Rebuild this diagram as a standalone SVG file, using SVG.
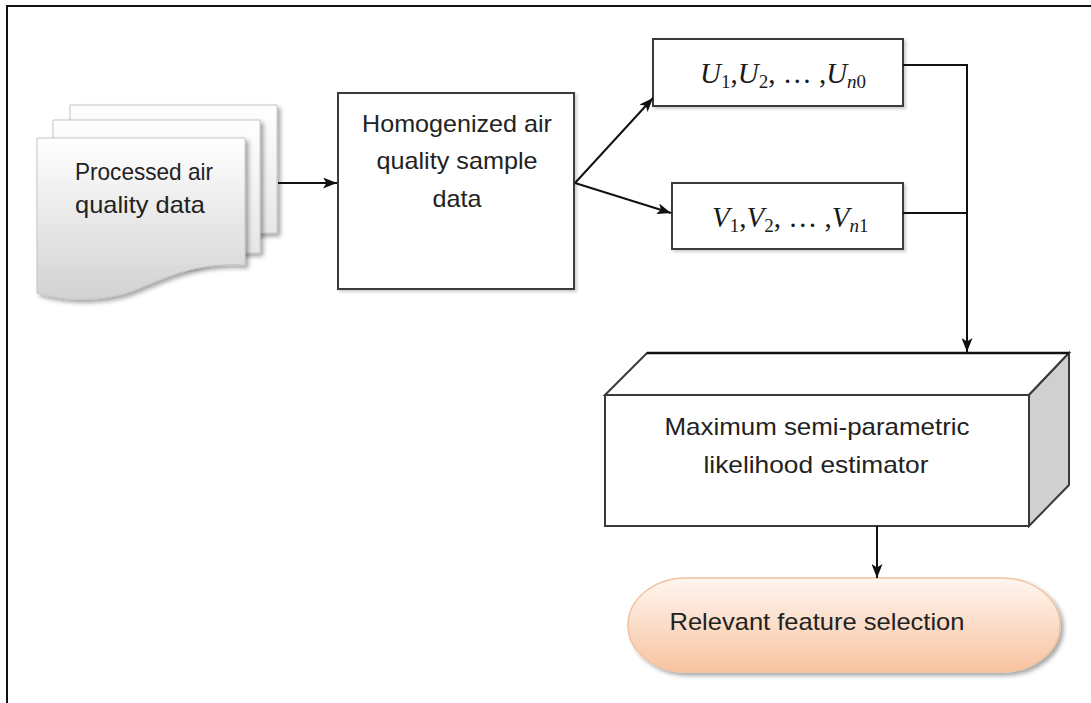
<svg xmlns="http://www.w3.org/2000/svg" width="1091" height="703" viewBox="0 0 1091 703">
<style>
.lbl{font-family:"Liberation Sans",Arial,sans-serif;font-size:24px;fill:#222;text-anchor:middle}
.math{font-family:"Liberation Serif","Times New Roman",serif;font-size:29px;fill:#1a1a1a}
.box{fill:#fff;stroke:#3a3a3a;stroke-width:2}
.sheet{stroke:#c4c4c4;stroke-width:1}
.conn{fill:none;stroke:#111;stroke-width:2}
</style>
<defs>
<linearGradient id="sheetG" x1="0" y1="0" x2="0" y2="1">
<stop offset="0" stop-color="#ffffff"/><stop offset="1" stop-color="#d2d2d2"/>
</linearGradient>
<linearGradient id="sheetB" x1="0" y1="0" x2="0" y2="1">
<stop offset="0" stop-color="#ffffff"/><stop offset="1" stop-color="#e2e2e2"/>
</linearGradient>
<linearGradient id="pillG" x1="0" y1="0" x2="0" y2="1">
<stop offset="0" stop-color="#fef6f0"/><stop offset="1" stop-color="#f8c3a0"/>
</linearGradient>
<filter id="sh" x="-10%" y="-10%" width="130%" height="130%">
<feDropShadow dx="3" dy="3" stdDeviation="2" flood-color="#000" flood-opacity="0.35"/>
</filter>
<filter id="sh2" x="-10%" y="-10%" width="130%" height="130%">
<feDropShadow dx="2" dy="2" stdDeviation="1.5" flood-color="#000" flood-opacity="0.2"/>
</filter>
<marker id="ah" viewBox="0 0 14 11" refX="14" refY="5.5" markerWidth="14" markerHeight="11" markerUnits="userSpaceOnUse" orient="auto">
<path d="M0,0 L14,5.5 L0,11 L3.5,5.5 Z" fill="#111"/>
</marker>
</defs>
<rect width="1091" height="703" fill="#fff"/>
<g id="frame"><path d="M7,703 V6 H1091" fill="none" stroke="#111" stroke-width="2"/></g>

<g id="processed-data">
<path class="sheet" filter="url(#sh)" fill="url(#sheetB)" d="M70,105 H277 V233 C250,232 230,240 200,250 L70,258 Z"/>
<path class="sheet" filter="url(#sh)" fill="url(#sheetB)" d="M53,120 H260 V253 C235,252 215,258 190,266 L53,275 Z"/>
<path class="sheet" filter="url(#sh)" fill="url(#sheetG)" d="M37,138 H245 V265 C195,262 165,278 135,290 C105,302 65,302 37,293 Z"/>
<text class="lbl" x="144" y="180" textLength="138" lengthAdjust="spacingAndGlyphs">Processed air</text>
<text class="lbl" x="140" y="213" textLength="130" lengthAdjust="spacingAndGlyphs">quality data</text>
</g>

<g id="homogenized">
<rect class="box" filter="url(#sh2)" x="338" y="93" width="236" height="196"/>
<text class="lbl" x="457" y="132" textLength="190" lengthAdjust="spacingAndGlyphs">Homogenized air</text>
<text class="lbl" x="457" y="169" textLength="161" lengthAdjust="spacingAndGlyphs">quality sample</text>
<text class="lbl" x="457" y="207" textLength="49" lengthAdjust="spacingAndGlyphs">data</text>
</g>

<g id="u-set">
<rect class="box" filter="url(#sh2)" x="653" y="39" width="250" height="67"/>
<text class="math" x="700" y="83"><tspan font-style="italic">U</tspan><tspan font-size="19" dy="5">1</tspan><tspan dy="-5">,</tspan><tspan font-style="italic">U</tspan><tspan font-size="19" dy="5">2</tspan><tspan dy="-5">, … ,</tspan><tspan font-style="italic">U</tspan><tspan font-size="19" dy="5" font-style="italic">n</tspan><tspan font-size="19">0</tspan></text>
</g>

<g id="v-set">
<rect class="box" filter="url(#sh2)" x="672" y="183" width="231" height="66"/>
<text class="math" x="712" y="227"><tspan font-style="italic">V</tspan><tspan font-size="19" dy="5">1</tspan><tspan dy="-5">,</tspan><tspan font-style="italic">V</tspan><tspan font-size="19" dy="5">2</tspan><tspan dy="-5">, … ,</tspan><tspan font-style="italic">V</tspan><tspan font-size="19" dy="5" font-style="italic">n</tspan><tspan font-size="19">1</tspan></text>
</g>

<g id="estimator">
<polygon points="605,395 647,353 1069,353 1029,395" fill="#fff" stroke="#3a3a3a" stroke-width="2"/>
<polygon points="1029,395 1069,353 1069,485 1029,526" fill="#d0d0d0" stroke="#3a3a3a" stroke-width="2"/>
<rect class="box" x="605" y="395" width="424" height="131"/>
<line x1="647" y1="353" x2="1069" y2="353" stroke="#111" stroke-width="2.5"/>
<text class="lbl" x="817" y="435" textLength="305" lengthAdjust="spacingAndGlyphs">Maximum semi-parametric</text>
<text class="lbl" x="816" y="473" textLength="225" lengthAdjust="spacingAndGlyphs">likelihood estimator</text>
</g>

<g id="feature-selection">
<rect x="628" y="578" width="432" height="94" rx="58" ry="47" fill="url(#pillG)" stroke="#f2c2a0" stroke-width="1.5" filter="url(#sh)"/>
<text class="lbl" x="817" y="630" textLength="295" lengthAdjust="spacingAndGlyphs">Relevant feature selection</text>
</g>

<g id="connectors">
<line class="conn" x1="278" y1="183" x2="337" y2="183" marker-end="url(#ah)"/>
<line class="conn" x1="575" y1="183" x2="653" y2="98" marker-end="url(#ah)"/>
<line class="conn" x1="575" y1="183" x2="671" y2="213" marker-end="url(#ah)"/>
<polyline class="conn" points="903,65 967,65 967,352" marker-end="url(#ah)"/>
<line class="conn" x1="903" y1="213" x2="967" y2="213"/>
<line class="conn" x1="877" y1="526" x2="877" y2="578" marker-end="url(#ah)"/>
</g>
</svg>
